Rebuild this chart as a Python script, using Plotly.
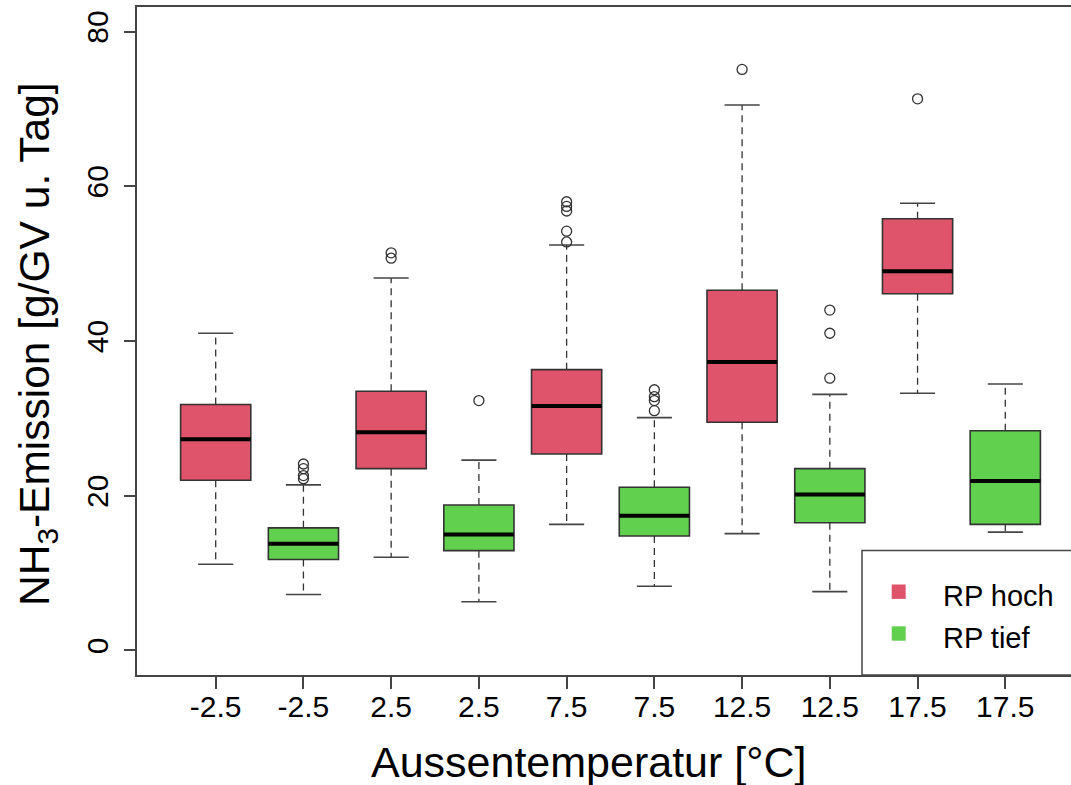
import plotly.graph_objects as go

# ---- data ----
categories = ["-2.5", "-2.5", "2.5", "2.5", "7.5", "7.5", "12.5", "12.5", "17.5", "17.5"]
series_names = ["RP hoch", "RP tief"]

hoch_lower = [11.15, 12.05, 16.3, 15.1, 33.25]
hoch_q1 = [22.0, 23.5, 25.4, 29.5, 46.1]
hoch_median = [27.3, 28.2, 31.6, 37.3, 49.0]
hoch_q3 = [31.8, 33.5, 36.3, 46.55, 55.8]
hoch_upper = [41.0, 48.15, 52.4, 70.5, 57.8]
hoch_outliers = [[], [51.4, 50.7], [58.0, 57.4, 56.8, 54.2, 52.8], [75.1], [71.3]]

tief_lower = [7.23, 6.3, 8.3, 7.6, 15.3]
tief_q1 = [11.76, 12.9, 14.8, 16.5, 16.3]
tief_median = [13.8, 15.0, 17.4, 20.15, 21.9]
tief_q3 = [15.85, 18.8, 21.1, 23.5, 28.4]
tief_upper = [21.4, 24.6, 30.1, 33.1, 34.45]
tief_outliers = [[24.1, 23.5, 22.6, 22.2], [32.3], [33.7, 32.8, 32.3, 31.0], [44.0, 41.0, 35.2], []]

y_ticks = [0, 20, 40, 60, 80]

# ---- styles ----
RED = "#DF536B"
GREEN = "#61D04F"
DARK = "#333333"
FONT = "Liberation Sans, Arial, sans-serif"
BOX_W = 0.8
CAP_W = 0.4

fig = go.Figure()

groups = [
    (series_names[0], RED, [1, 3, 5, 7, 9], hoch_lower, hoch_q1, hoch_median, hoch_q3, hoch_upper, hoch_outliers),
    (series_names[1], GREEN, [2, 4, 6, 8, 10], tief_lower, tief_q1, tief_median, tief_q3, tief_upper, tief_outliers),
]

for name, color, xs, lo, q1, med, q3, up, outl in groups:
    # whiskers (dashed)
    wx, wy = [], []
    for x, a, b, c, d in zip(xs, lo, q1, q3, up):
        wx += [x, x, None, x, x, None]
        wy += [c, d, None, b, a, None]
    fig.add_trace(go.Scatter(x=wx, y=wy, mode="lines", showlegend=False, hoverinfo="skip",
                             line=dict(color=DARK, width=1.3, dash="7px,5px")))
    # caps
    cx, cy = [], []
    for x, a, d in zip(xs, lo, up):
        cx += [x - CAP_W / 2, x + CAP_W / 2, None, x - CAP_W / 2, x + CAP_W / 2, None]
        cy += [d, d, None, a, a, None]
    fig.add_trace(go.Scatter(x=cx, y=cy, mode="lines", showlegend=False, hoverinfo="skip",
                             line=dict(color="#444444", width=1.6)))
    # boxes
    fig.add_trace(go.Bar(x=xs, y=[c - b for b, c in zip(q1, q3)], base=q1, width=BOX_W,
                         name=name, showlegend=False,
                         marker=dict(color=color, line=dict(color=DARK, width=1.6))))
    # medians
    mx, my = [], []
    for x, m in zip(xs, med):
        mx += [x - BOX_W / 2, x + BOX_W / 2, None]
        my += [m, m, None]
    fig.add_trace(go.Scatter(x=mx, y=my, mode="lines", showlegend=False, hoverinfo="skip",
                             line=dict(color="black", width=4)))
    # outliers
    ox, oy = [], []
    for x, vals in zip(xs, outl):
        for v in vals:
            ox.append(x)
            oy.append(v)
    fig.add_trace(go.Scatter(x=ox, y=oy, mode="markers", showlegend=False,
                             marker=dict(symbol="circle-open", size=10, color=DARK, line=dict(width=1.3))))

W, H = 1071, 785
L, R, T, B = 137, 0, 7, 110
pw, ph = W - L - R, H - T - B


def px_x(p):
    return (p - L) / pw


def px_y(p):
    return (H - B - p) / ph


# legend (drawn as in the R figure: box at bottom right)
fig.add_shape(type="rect", xref="paper", yref="paper", x0=px_x(862), x1=1.05, y0=0, y1=px_y(550.5),
              fillcolor="white", line=dict(color="#444444", width=1.5), layer="above")
for i, (name, color) in enumerate(zip(series_names, [RED, GREEN])):
    yc = [591.7, 633.5][i]
    fig.add_shape(type="rect", xref="paper", yref="paper", x0=px_x(891.7), x1=px_x(905.7),
                  y0=px_y(yc + 7.2), y1=px_y(yc - 7.2), fillcolor=color, line=dict(width=0), layer="above")
    fig.add_annotation(xref="paper", yref="paper", x=px_x(941), y=px_y(yc + 4), text=name,
                       showarrow=False, xanchor="left", yanchor="middle",
                       font=dict(family=FONT, size=29, color="black"))

# axis titles
fig.add_annotation(xref="paper", yref="paper", x=px_x(588), y=px_y(762), text="Aussentemperatur [°C]",
                   showarrow=False, xanchor="center", yanchor="middle",
                   font=dict(family=FONT, size=43, color="black"))
fig.add_annotation(xref="paper", yref="paper", x=px_x(38), y=px_y(344), text="NH<sub>3</sub>-Emission [g/GV u. Tag]",
                   showarrow=False, xanchor="center", yanchor="middle", textangle=-90,
                   font=dict(family=FONT, size=42.5, color="black"))

fig.update_layout(
    width=W, height=H,
    margin=dict(l=L, r=R, t=T, b=B, pad=0),
    paper_bgcolor="white", plot_bgcolor="white",
    barmode="overlay", showlegend=False,
    font=dict(family=FONT, color="black"),
)
fig.update_xaxes(range=[0.103, 10.749], tickvals=list(range(1, 11)), ticktext=categories,
                 showgrid=False, zeroline=False, showline=True, mirror=True,
                 linecolor="#444444", linewidth=1.5, ticks="outside", ticklen=12, tickwidth=1.5,
                 tickcolor="#444444", tickfont=dict(family=FONT, size=30, color="black"),
                 ticklabelstandoff=-8)
fig.update_yaxes(range=[-3.17, 83.17], tickvals=y_ticks, tickangle=-90,
                 showgrid=False, zeroline=False, showline=True,
                 linecolor="#444444", linewidth=1.5, ticks="outside", ticklen=11, tickwidth=1.5,
                 tickcolor="#444444", tickfont=dict(family=FONT, size=30, color="black"),
                 ticklabelstandoff=4)

fig.write_html("out.html", config={"displayModeBar": False},
               post_script="document.body.style.margin='0px';document.body.style.overflow='hidden';")
